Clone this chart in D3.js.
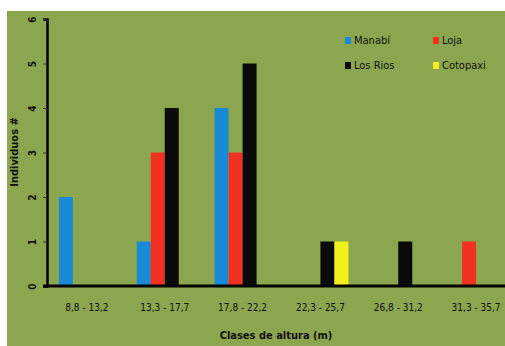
<!DOCTYPE html>
<html>
<head>
<meta charset="utf-8">
<script src="https://cdn.jsdelivr.net/npm/d3@7"></script>
<style>
  body { margin: 0; background: #fff; }
  svg { display: block; }
  text { font-family: "Liberation Sans Narrow", "DejaVu Sans Condensed", sans-serif; }
</style>
</head>
<body>
<div id="chart"></div>
<script>
// data
var clases = ["8,8 - 13,2", "13,3 - 17,7", "17,8 - 22,2", "22,3 - 25,7", "26,8 - 31,2", "31,3 - 35,7"];
var provincias = ["Manabí", "Loja", "Los Rios", "Cotopaxi"];
var manabi   = [2, 1, 4, 0, 0, 0];
var loja     = [0, 3, 3, 0, 0, 1];
var losRios  = [0, 4, 5, 1, 1, 0];
var cotopaxi = [0, 0, 0, 1, 0, 0];
var yTicks = [0, 1, 2, 3, 4, 5, 6];

var series = [manabi, loja, losRios, cotopaxi];
var colores = d3.scaleOrdinal(provincias, ["#1b8ad6", "#f2301f", "#0a0a0a", "#f2ef1c"]);

var width = 505, height = 346;
var margin = {top: 19, right: -10, bottom: 60, left: 48};

var svg = d3.select("#chart")
  .append("svg")
  .attr("width", width)
  .attr("height", height);

// green panel
svg.append("rect")
  .attr("x", 7).attr("y", 11)
  .attr("width", width - 7).attr("height", height - 11)
  .attr("fill", "#8ba64f");

var x0 = d3.scaleBand()
  .domain(clases)
  .range([margin.left, width - margin.right])
  .paddingInner(0);

var x1 = d3.scaleBand()
  .domain(provincias)
  .range([x0.bandwidth() / 2 - 28, x0.bandwidth() / 2 + 28]);

var y = d3.scaleLinear()
  .domain([0, 6])
  .range([height - margin.bottom, margin.top]);

// bars
var groups = svg.selectAll(".grupo")
  .data(clases)
  .join("g")
  .attr("class", "grupo")
  .attr("transform", d => `translate(${x0(d)},0)`);

groups.selectAll("rect")
  .data((d, i) => provincias.map((p, j) => ({prov: p, value: series[j][i]})))
  .join("rect")
  .attr("x", d => x1(d.prov))
  .attr("width", x1.bandwidth())
  .attr("y", d => y(d.value))
  .attr("height", d => y(0) - y(d.value))
  .attr("fill", d => colores(d.prov));

// y axis
var yAxis = svg.append("g")
  .attr("transform", `translate(${margin.left - 1},0)`)
  .call(d3.axisLeft(y).tickValues(yTicks).tickSize(4).tickFormat(d3.format("d")));
yAxis.select(".domain").attr("stroke", "#000").attr("stroke-width", 2.5);
yAxis.selectAll(".tick line").attr("stroke", "#333");
yAxis.selectAll(".tick text")
  .attr("x", 0)
  .attr("transform", "translate(-15,0) rotate(-90)")
  .attr("text-anchor", "middle")
  .attr("dy", "0.35em")
  .attr("font-size", 10)
  .attr("font-weight", "bold")
  .attr("fill", "#111");

// x axis
var xAxis = svg.append("g")
  .attr("transform", `translate(0,${y(0)})`)
  .call(d3.axisBottom(x0).tickSize(0).tickPadding(18));
xAxis.select(".domain").attr("d", `M${margin.left - 5},0H${width}`)
  .attr("stroke", "#000").attr("stroke-width", 3);
xAxis.selectAll(".tick text")
  .attr("font-size", 10)
  .attr("fill", "#111");

// axis titles
svg.append("text")
  .attr("x", 276).attr("y", 339)
  .attr("text-anchor", "middle")
  .attr("font-size", 11)
  .attr("font-weight", "bold")
  .attr("fill", "#111")
  .text("Clases de altura (m)");

svg.append("text")
  .attr("transform", "translate(18,152) rotate(-90)")
  .attr("text-anchor", "middle")
  .attr("font-size", 11)
  .attr("font-weight", "bold")
  .attr("fill", "#111")
  .text("Individuos #");

// legend
var legend = svg.selectAll(".legend")
  .data(provincias)
  .join("g")
  .attr("class", "legend")
  .attr("transform", (d, i) => `translate(${345 + (i % 2) * 88},${37 + Math.floor(i / 2) * 25})`);

legend.append("rect")
  .attr("width", 6).attr("height", 7)
  .attr("fill", d => colores(d));

legend.append("text")
  .attr("x", 9).attr("y", 7)
  .attr("font-size", 11)
  .attr("fill", "#111")
  .text(d => d);
</script>
</body>
</html>
